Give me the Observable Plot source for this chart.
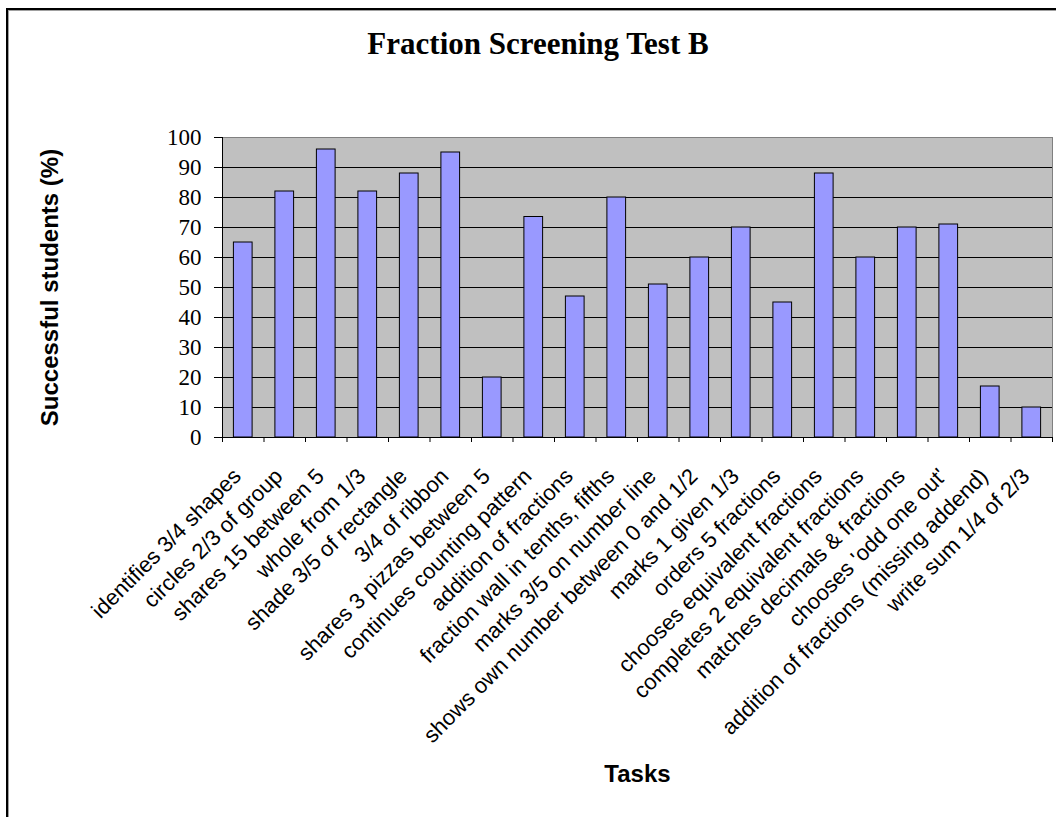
<!DOCTYPE html>
<html>
<head>
<meta charset="utf-8">
<script src="https://cdn.jsdelivr.net/npm/d3@7"></script>
<script src="https://cdn.jsdelivr.net/npm/@observablehq/plot@0.6"></script>
<style>
  html, body { margin: 0; padding: 0; background: #fff; overflow: hidden; }
  #wrap { position: relative; width: 1056px; height: 817px; }
  #frame { position: absolute; left: 6px; top: 8px; width: 1200px; height: 1000px;
           border-left: 2px solid #000; border-top: 2px solid #000;
           box-shadow: inset 1px 1px 0 #a0a0a0; }
  #chart { position: absolute; left: 0; top: 0; }
</style>
</head>
<body>
<div id="wrap"><div id="frame"></div><div id="chart"></div></div>
<script>
const tasks = [
  "identifies 3/4 shapes",
  "circles 2/3 of group",
  "shares 15 between 5",
  "whole from 1/3",
  "shade 3/5 of rectangle",
  "3/4 of ribbon",
  "shares 3 pizzas between 5",
  "continues counting pattern",
  "addition of fractions",
  "fraction wall in tenths, fifths",
  "marks 3/5 on number line",
  "shows own number between 0 and 1/2",
  "marks 1 given 1/3",
  "orders 5 fractions",
  "chooses equivalent fractions",
  "completes 2 equivalent fractions",
  "matches decimals & fractions",
  "chooses 'odd one out'",
  "addition of fractions (missing addend)",
  "write sum 1/4 of 2/3"
];
const values = [65, 82, 96, 82, 88, 95, 20, 73.5, 47, 80, 51, 60, 70, 45, 88, 60, 70, 71, 17, 10];
const yTicks = [0, 10, 20, 30, 40, 50, 60, 70, 80, 90, 100];

const data = tasks.map((task, i) => ({task, i, value: values[i]}));
const bounds = d3.range(tasks.length + 1);

const sans = "Liberation Sans, Arial, sans-serif";
const serif = "Liberation Serif, Times New Roman, serif";

const chart = Plot.plot({
  width: 1056,
  height: 817,
  marginLeft: 222,
  marginRight: 4,
  marginTop: 137,
  marginBottom: 380,
  style: {background: "transparent", overflow: "visible"},
  x: {type: "linear", domain: [0, tasks.length], axis: null},
  y: {domain: [0, 100], axis: null},
  marks: [
    Plot.frame({fill: "#c0c0c0", stroke: "#808080"}),
    Plot.ruleY(yTicks.filter(v => v > 0 && v < 100), {stroke: "#000", strokeWidth: 1}),
    Plot.rectY(data, {x: "i", interval: 1, y: "value", insetLeft: 11.4, insetRight: 11.4,
                      fill: "#9999ff", stroke: "#000", strokeWidth: 1}),
    Plot.ruleY([0], {stroke: "#000"}),
    Plot.ruleX([0], {stroke: "#000"}),
    Plot.axisY({ticks: yTicks, tickSize: 8, tickPadding: 13, fontSize: 23,
                fontFamily: serif, label: null, anchor: "left"}),
    Plot.axisX({ticks: bounds, tickSize: 5, tickFormat: () => "", label: null, anchor: "bottom"}),
    Plot.text(data, {x: d => d.i + 0.5, frameAnchor: "bottom", text: "task", rotate: -45,
                     textAnchor: "end", lineAnchor: "top", dx: -12, dy: 29,
                     fontSize: 22, fontFamily: sans, fill: "#000"}),
    Plot.text(["Successful students (%)"], {frameAnchor: "left", rotate: -90, dx: -172,
                     textAnchor: "middle", lineAnchor: "middle",
                     fontSize: 24, fontWeight: "bold", fontFamily: sans, fill: "#000"}),
    Plot.text(["Tasks"], {frameAnchor: "bottom", dy: 337, lineAnchor: "middle",
                     fontSize: 24, fontWeight: "bold", fontFamily: sans, fill: "#000"}),
    Plot.text(["Fraction Screening Test B"], {frameAnchor: "top", dx: -99.5, dy: -93,
                     lineAnchor: "middle",
                     fontSize: 31, fontWeight: "bold", fontFamily: serif, fill: "#000"})
  ]
});
document.getElementById("chart").appendChild(chart);
</script>
</body>
</html>
